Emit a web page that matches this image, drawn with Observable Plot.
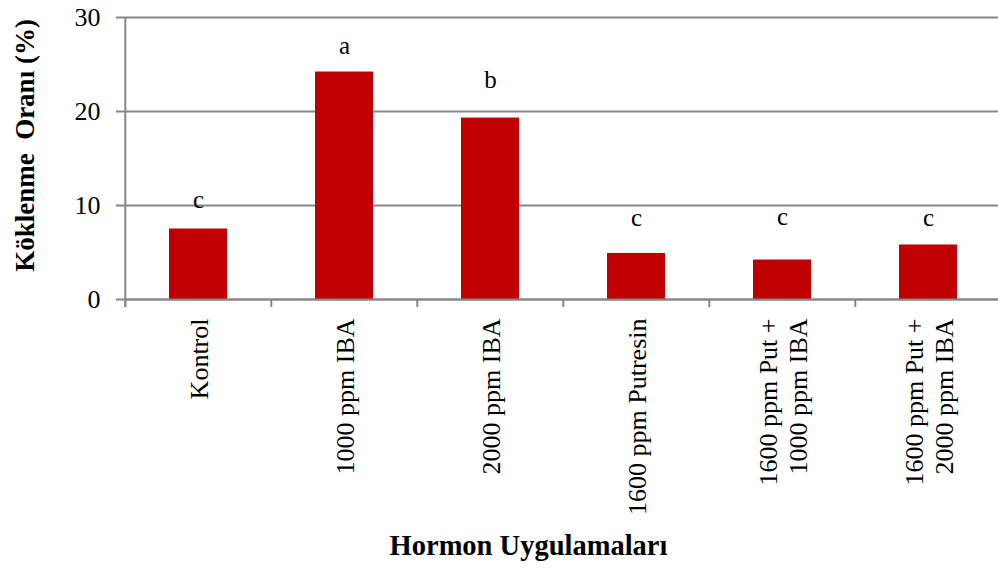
<!DOCTYPE html>
<html>
<head>
<meta charset="utf-8">
<script src="https://cdn.jsdelivr.net/npm/d3@7"></script>
<script src="https://cdn.jsdelivr.net/npm/@observablehq/plot@0.6"></script>
<style>
  html, body { margin: 0; padding: 0; background: #fff; }
  #chart { width: 998px; height: 571px; }
</style>
</head>
<body>
<div id="chart"></div>
<script>
const categories = [
  "Kontrol",
  "1000 ppm IBA",
  "2000 ppm IBA",
  "1600 ppm Putresin",
  "1600 ppm Put +\n1000 ppm IBA",
  "1600 ppm Put +\n2000 ppm IBA"
];
const values = [7.5, 24.2, 19.3, 4.9, 4.2, 5.8];
const letters = ["c", "a", "b", "c", "c", "c"];
const letterY = [10.6, 27.0, 23.3, 8.7, 8.8, 8.65];
const yTicks = [0, 10, 20, 30];
const yTitle = "Köklenme  Oranı (%)";
const xTitle = "Hormon Uygulamaları";

const data = categories.map((c, i) => ({cat: c, value: values[i], letter: letters[i], ly: letterY[i]}));

const W = 998, H = 571;
const mLeft = 124, mTop = 17, mBottom = 272;
const xRange = [124, 1002.4];
const step = (xRange[1] - xRange[0]) / categories.length;
const gray = "#878787";
const font = "'Liberation Serif', 'Times New Roman', serif";

const chart = Plot.plot({
  width: W,
  height: H,
  marginLeft: mLeft,
  marginRight: 0,
  marginTop: mTop,
  marginBottom: mBottom,
  style: { fontFamily: font, background: "white", color: "black", overflow: "visible" },
  x: { domain: categories, range: xRange, paddingInner: 0.604, paddingOuter: 0.302, axis: null },
  y: { domain: [0, 30], axis: null },
  marks: [
    Plot.ruleY(yTicks, { y: d => d, stroke: gray, strokeWidth: 2, insetLeft: -8 }),
    Plot.barY(data, { x: "cat", y: "value", fill: "#C00000" }),
    Plot.ruleY([0], { stroke: gray, strokeWidth: 2 }),
    Plot.text(yTicks, { y: d => d, text: d => String(d), frameAnchor: "left", textAnchor: "end", dx: -24, fontSize: 26, fill: "black", lineAnchor: "middle" }),
    Plot.ruleX([categories[0]], { x: d => d, dx: -step / 2, y1: 0, y2: 30, insetTop: 8, stroke: gray, strokeWidth: 2 }),
    Plot.ruleX(categories, { x: d => d, dx: -step / 2, y1: 0, y2: 0, insetBottom: -8, stroke: gray, strokeWidth: 2 }),
    Plot.text(data, { x: "cat", y: "ly", text: "letter", fontSize: 25, fill: "black", lineAnchor: "middle" }),
    Plot.text(categories, { x: d => d, frameAnchor: "bottom", text: d => d, rotate: -90, textAnchor: "end", lineAnchor: "middle", lineHeight: 1.15, dy: 19, fontSize: 26, fill: "black" }),
    Plot.text([yTitle], { frameAnchor: "left", text: d => d, rotate: -90, textAnchor: "middle", dx: -99, dy: -13, fontSize: 27, fontWeight: "bold", fill: "black", lineAnchor: "middle" }),
    Plot.text([xTitle], { frameAnchor: "bottom", text: d => d, dx: -33, dy: 246, fontSize: 28.5, fontWeight: "bold", fill: "black", lineAnchor: "middle" })
  ]
});
document.getElementById("chart").appendChild(chart);
</script>
</body>
</html>
